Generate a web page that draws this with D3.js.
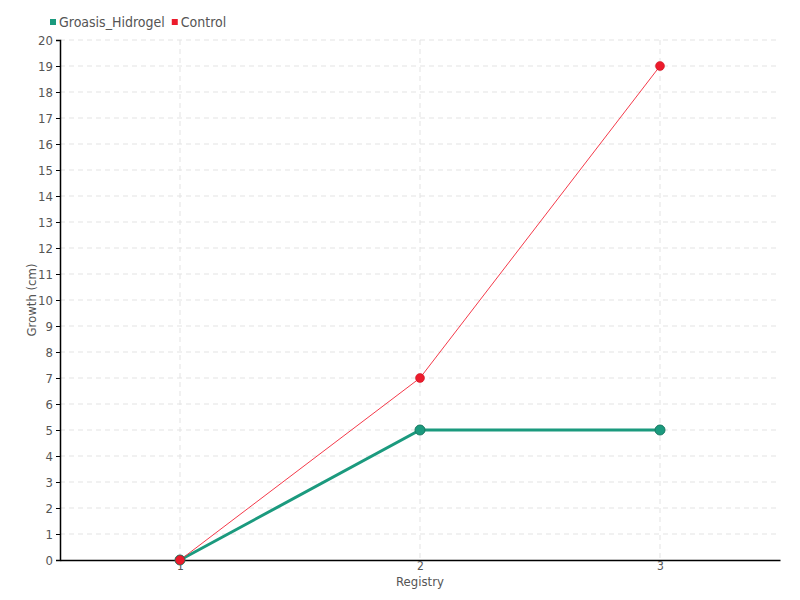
<!DOCTYPE html>
<html><head><meta charset="utf-8">
<script src="https://cdn.jsdelivr.net/npm/d3@7"></script>
<style>body{margin:0;background:#fff}svg{display:block}text{font-family:"DejaVu Sans Condensed","DejaVu Sans",sans-serif;font-stretch:condensed}</style>
</head><body>
<svg id="c" width="800" height="600"></svg>
<script>
const registries = [1, 2, 3];
const hidrogel = [0, 5, 5];
const control = [0, 7, 19];
const yTicks = d3.range(0, 21);
const seriesNames = ["Groasis_Hidrogel", "Control"];
const colors = ["#1b9a7e", "#ec1b2c"];

const svg = d3.select("#c");
const m = {l: 60, r: 20, t: 40, b: 40};
const W = 800, H = 600;
const x = d3.scaleLinear().domain([0.5, 3.5]).range([m.l, W - m.r]);
const y = d3.scaleLinear().domain([0, 20]).range([H - m.b, m.t]);

// grid
const g = svg.append("g");
g.selectAll(".hg").data(yTicks.filter(d => d > 0)).join("line")
  .attr("x1", m.l).attr("x2", W - m.r).attr("y1", d => y(d)).attr("y2", d => y(d))
  .attr("stroke", "#e3e3e3").attr("stroke-dasharray", "5,4");
g.selectAll(".vg").data(registries).join("line")
  .attr("x1", d => x(d)).attr("x2", d => x(d)).attr("y1", m.t).attr("y2", H - m.b)
  .attr("stroke", "#e3e3e3").attr("stroke-dasharray", "5,4");

// axes
const ya = svg.append("g").attr("transform", `translate(${m.l},0)`)
  .call(d3.axisLeft(y).tickValues(yTicks).tickFormat(d3.format("d")).tickSize(4).tickPadding(3));
ya.select(".domain").attr("stroke", "#000").attr("stroke-width", 1.5);
ya.selectAll(".tick line").attr("stroke", "#000");
ya.selectAll("text").attr("fill", "#555").attr("font-size", 13);

const xa = svg.append("g").attr("transform", `translate(0,${H - m.b})`)
  .call(d3.axisBottom(x).tickValues(registries).tickFormat(d3.format("d")).tickSizeOuter(0).tickSize(0).tickPadding(1));
xa.select(".domain").attr("stroke", "#000").attr("stroke-width", 1.5);
xa.selectAll("text").attr("fill", "#555").attr("font-size", 12);

// titles
svg.append("text").attr("transform", `translate(36,${(m.t + H - m.b) / 2}) rotate(-90)`)
  .attr("text-anchor", "middle").attr("fill", "#555").attr("font-size", 13).text("Growth (cm)");
svg.append("text").attr("x", (m.l + W - m.r) / 2).attr("y", 586)
  .attr("text-anchor", "middle").attr("fill", "#555").attr("font-size", 13).text("Registry");

// lines
const line = d3.line().x((d, i) => x(registries[i])).y(d => y(d));
svg.append("path").datum(hidrogel).attr("d", line).attr("fill", "none")
  .attr("stroke", colors[0]).attr("stroke-width", 3);
svg.append("path").datum(control).attr("d", line).attr("fill", "none")
  .attr("stroke", "#f43a4a").attr("stroke-width", 1);
svg.selectAll(".p1").data(hidrogel).join("circle")
  .attr("cx", (d, i) => x(registries[i])).attr("cy", d => y(d)).attr("r", 5)
  .attr("fill", colors[0]).attr("stroke", "#187a62").attr("stroke-width", 1);
svg.selectAll(".p2").data(control).join("circle")
  .attr("cx", (d, i) => x(registries[i])).attr("cy", d => y(d)).attr("r", 4.5)
  .attr("fill", colors[1]).attr("stroke", "#c8101f").attr("stroke-width", 0.5);

// legend
const lg = svg.append("g").attr("transform", "translate(50,22)");
let lx = 0;
seriesNames.forEach((n, i) => {
  lg.append("rect").attr("x", lx).attr("y", -3).attr("width", 6).attr("height", 6).attr("fill", colors[i]);
  const t = lg.append("text").attr("x", lx + 9).attr("y", 5).attr("fill", "#555").attr("font-size", 14).text(n);
  lx += 9 + t.node().getComputedTextLength() + 7;
});
</script>
</body></html>
